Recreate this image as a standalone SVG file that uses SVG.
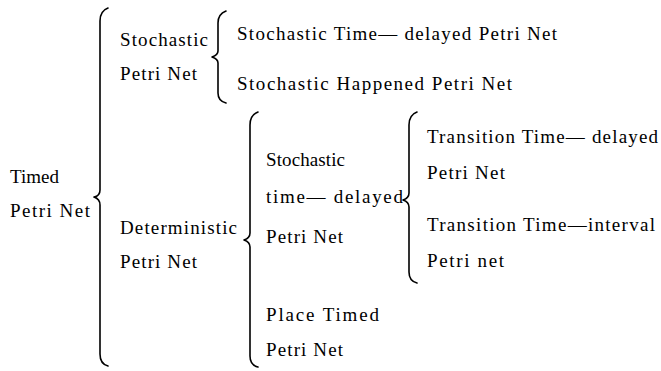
<svg xmlns="http://www.w3.org/2000/svg" width="661" height="371" viewBox="0 0 661 371">
  <style>
    text { font-family: "Liberation Serif", "Times New Roman", serif; font-size: 19px; fill: #000; }
    .brace { fill: none; stroke: #000; stroke-width: 1.6; stroke-linejoin: round; stroke-linecap: round; }
  </style>
  <rect width="661" height="371" fill="#fff"/>

  <!-- curly braces joining each class to its sub-classes -->
  <g id="connectors">
    <path class="brace" d="M108,8 Q100,11 100,21 L100,190 Q100,196 94,197 Q100,199 100,205 L100,354 Q100,364 108,366"/>
    <path class="brace" d="M226,11 Q218,14 218,23 L218,51 Q218,55 212,57 Q218,59 218,63 L218,93 Q218,101 226,103"/>
    <path class="brace" d="M258,112 Q250,115 250,125 L250,233 Q250,238 244,240 Q250,242 250,247 L250,356 Q250,365 258,367"/>
    <path class="brace" d="M417,112 Q409,115 409,125 L409,193 Q409,198 403,200 Q409,202 409,207 L409,272 Q409,281 417,283"/>
  </g>

  <g id="timed-petri-net">
    <text x="10" y="183">Timed</text>
    <text x="10" y="217" textLength="80" lengthAdjust="spacing">Petri Net</text>
  </g>

  <g id="stochastic-petri-net">
    <text x="120" y="46" textLength="88" lengthAdjust="spacing">Stochastic</text>
    <text x="120" y="80" textLength="77" lengthAdjust="spacing">Petri Net</text>
  </g>

  <g id="stochastic-time-delayed">
    <text x="237" y="40" textLength="320" lengthAdjust="spacing">Stochastic Time— delayed Petri Net</text>
  </g>

  <g id="stochastic-happened">
    <text x="237" y="90" textLength="275" lengthAdjust="spacing">Stochastic Happened Petri Net</text>
  </g>

  <g id="deterministic-petri-net">
    <text x="120" y="234" textLength="117" lengthAdjust="spacing">Deterministic</text>
    <text x="120" y="268" textLength="77" lengthAdjust="spacing">Petri Net</text>
  </g>

  <g id="stochastic-time-delayed-det">
    <text x="266" y="166" textLength="79" lengthAdjust="spacing">Stochastic</text>
    <text x="266" y="203" textLength="137" lengthAdjust="spacing">time— delayed</text>
    <text x="266" y="243" textLength="77" lengthAdjust="spacing">Petri Net</text>
  </g>

  <g id="transition-time-delayed">
    <text x="427" y="143" textLength="231" lengthAdjust="spacing">Transition Time— delayed</text>
    <text x="427" y="179" textLength="78" lengthAdjust="spacing">Petri Net</text>
  </g>

  <g id="transition-time-interval">
    <text x="427" y="231" textLength="228" lengthAdjust="spacing">Transition Time—interval</text>
    <text x="427" y="267" textLength="77" lengthAdjust="spacing">Petri net</text>
  </g>

  <g id="place-timed-petri-net">
    <text x="266" y="321" textLength="113" lengthAdjust="spacing">Place Timed</text>
    <text x="266" y="356" textLength="77" lengthAdjust="spacing">Petri Net</text>
  </g>
</svg>
